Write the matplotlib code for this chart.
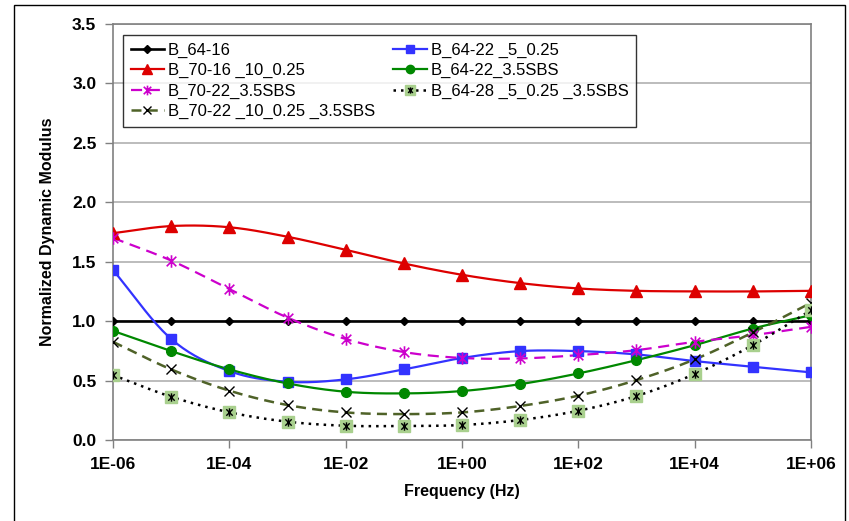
import numpy as np
import matplotlib
matplotlib.use("Agg")
import matplotlib.pyplot as plt
from matplotlib.path import Path
from matplotlib.patches import Rectangle
from matplotlib.legend_handler import HandlerTuple

plt.rcParams['font.family'] = ['Liberation Sans', 'DejaVu Sans']

# frequences (Hz)
freq = [1e-6, 1e-5, 1e-4, 1e-3, 1e-2, 1e-1, 1e0, 1e1, 1e2, 1e3, 1e4, 1e5, 1e6]

b_64_16 = [1.0] * 13
b_64_22_5 = [1.43, 0.85, 0.58, 0.49, 0.51, 0.594, 0.69, 0.748, 0.748, 0.72, 0.664, 0.616, 0.569]
b_70_16_10 = [1.74, 1.80, 1.79, 1.71, 1.60, 1.485, 1.39, 1.32, 1.275, 1.255, 1.25, 1.25, 1.255]
b_64_22_sbs = [0.918, 0.748, 0.594, 0.476, 0.406, 0.392, 0.412, 0.47, 0.56, 0.672, 0.798, 0.938, 1.05]
b_70_22_sbs = [1.70, 1.51, 1.27, 1.03, 0.85, 0.74, 0.69, 0.686, 0.714, 0.756, 0.826, 0.882, 0.952]
b_64_28 = [0.546, 0.364, 0.233, 0.154, 0.12, 0.118, 0.126, 0.168, 0.246, 0.37, 0.555, 0.798, 1.092]
b_70_22_10 = [0.826, 0.594, 0.415, 0.294, 0.232, 0.218, 0.232, 0.286, 0.373, 0.504, 0.678, 0.905, 1.154]

xticks = [1e-6, 1e-4, 1e-2, 1e0, 1e2, 1e4, 1e6]
xlabels = ["1E-06", "1E-04", "1E-02", "1E+00", "1E+02", "1E+04", "1E+06"]


def lissage(x, y, n=20):
    # courbe lissee type Excel (Catmull-Rom) dans l'espace log10(x)
    lx = np.log10(x)
    y = np.asarray(y, dtype=float)
    px = np.concatenate([[2 * lx[0] - lx[1]], lx, [2 * lx[-1] - lx[-2]]])
    py = np.concatenate([[2 * y[0] - y[1]], y, [2 * y[-1] - y[-2]]])
    xs, ys = [], []
    t = np.linspace(0, 1, n, endpoint=False)
    for i in range(1, len(px) - 2):
        for p, out in ((px, xs), (py, ys)):
            p0, p1, p2, p3 = p[i - 1], p[i], p[i + 1], p[i + 2]
            out.extend(0.5 * (2 * p1 + (-p0 + p2) * t + (2 * p0 - 5 * p1 + 4 * p2 - p3) * t ** 2
                              + (-p0 + 3 * p1 - 3 * p2 + p3) * t ** 3))
    xs.append(lx[-1])
    ys.append(y[-1])
    return 10 ** np.array(xs), np.array(ys)


# marqueur etoile Excel (x + barre verticale)
etoile = Path([(-1, -1), (1, 1), (-1, 1), (1, -1), (0, -1.3), (0, 1.3)],
              [Path.MOVETO, Path.LINETO, Path.MOVETO, Path.LINETO, Path.MOVETO, Path.LINETO])

fig = plt.figure(figsize=(8.49, 5.21), dpi=100)
ax = fig.add_axes([113 / 849, 1 - 440 / 521, 698 / 849, 416 / 521])
ax.set_xscale("log")

series = [
    (b_64_16, "B_64-16", dict(color="black", lw=1.9, ls="-", marker="D", ms=4, lms=4)),
    (b_64_22_5, "B_64-22 _5_0.25", dict(color="#3333FF", lw=1.6, ls="-", marker="s", ms=7, lms=6)),
    (b_70_16_10, "B_70-16 _10_0.25", dict(color="#DD0000", lw=1.6, ls="-", marker="^", ms=8, lms=6.5)),
    (b_64_22_sbs, "B_64-22_3.5SBS", dict(color="#008800", lw=1.6, ls="-", marker="o", ms=7, lms=6)),
    (b_70_22_sbs, "B_70-22_3.5SBS", dict(color="#CC00CC", lw=1.6, ls=(0, (5, 3)), marker=etoile, ms=9,
                                         lms=7, mew=1.2)),
    (b_70_22_10, "B_70-22 _10_0.25 _3.5SBS", dict(color="#4F6228", lw=1.8, ls=(0, (4, 2.5)), marker="x", ms=7,
                                                  lms=6, mec="black", mew=1.0)),
]

handles = {}
for y, label, st in series:
    sx, sy = lissage(freq, y)
    ax.plot(sx, sy, color=st["color"], lw=st["lw"], ls=st["ls"], zorder=3)
    ax.plot(freq, y, ls="none", marker=st["marker"], ms=st["ms"], color=st["color"],
            mec=st.get("mec", st["color"]), mew=st.get("mew", 1.0), zorder=4)
    handles[label] = ax.plot([], [], color=st["color"], lw=st["lw"], ls=st["ls"], marker=st["marker"],
                             ms=st["lms"], mec=st.get("mec", st["color"]), mew=st.get("mew", 1.0))[0]

# serie pointillee avec carre vert clair + etoile noire
sx, sy = lissage(freq, b_64_28)
ax.plot(sx, sy, color="black", lw=1.8, ls=(0, (1, 2)), zorder=3)
ax.plot(freq, b_64_28, ls="none", marker="s", ms=8, color="#A9D08E", mec="#A9D08E", zorder=4)
ax.plot(freq, b_64_28, ls="none", marker=etoile, ms=6, color="black", mew=1.0, zorder=5)
h1 = ax.plot([], [], color="black", lw=1.8, ls=(0, (1, 2)), marker="s", ms=6.5, mfc="#A9D08E", mec="#A9D08E")[0]
h2 = ax.plot([], [], ls="none", marker=etoile, ms=4.5, color="black", mew=1.0)[0]
handles["B_64-28 _5_0.25 _3.5SBS"] = (h1, h2)

ordre = ["B_64-16", "B_70-16 _10_0.25", "B_70-22_3.5SBS", "B_70-22 _10_0.25 _3.5SBS",
         "B_64-22 _5_0.25", "B_64-22_3.5SBS", "B_64-28 _5_0.25 _3.5SBS"]
leg = ax.legend([handles[k] for k in ordre], ordre, ncol=2, loc="upper left",
                bbox_to_anchor=(10 / 698, 1 - 11 / 416), borderaxespad=0, fontsize=12, frameon=True,
                fancybox=False, edgecolor="black", handlelength=2.0, handletextpad=0.25, columnspacing=1.1,
                labelspacing=0.32, borderpad=0.45,
                handler_map={tuple: HandlerTuple(ndivide=1, pad=0)})
leg.get_frame().set_linewidth(1.0)
leg.set_zorder(10)

ax.set_xlim(1e-6, 1e6)
ax.set_ylim(0, 3.5)
ax.set_xticks(xticks)
ax.set_xticklabels(xlabels)
ax.xaxis.set_minor_locator(matplotlib.ticker.NullLocator())
ax.set_yticks(np.arange(0, 3.51, 0.5))
ax.set_yticklabels(["%.1f" % v for v in np.arange(0, 3.51, 0.5)])
ax.yaxis.grid(True, color="#B0B0B0", lw=1.2)
ax.set_axisbelow(True)
for s in ax.spines.values():
    s.set_color("#808080")
    s.set_linewidth(1.2)
ax.tick_params(axis="both", color="#808080", length=6, width=1.0, labelsize=12.5, pad=6)
for lab in ax.get_xticklabels() + ax.get_yticklabels():
    lab.set_fontweight("bold")
ax.set_xlabel("Frequency (Hz)", fontsize=11.5, fontweight="bold", labelpad=9)
ax.set_ylabel("Normalized Dynamic Modulus", fontsize=11.5, fontweight="bold", labelpad=12)

# cadre du graphique
fig.patches.append(Rectangle((14 / 849, -0.02), 831 / 849, 516 / 521 + 0.02, transform=fig.transFigure,
                             fill=False, edgecolor="black", lw=1.0))

plt.savefig("out.png", dpi=100)
